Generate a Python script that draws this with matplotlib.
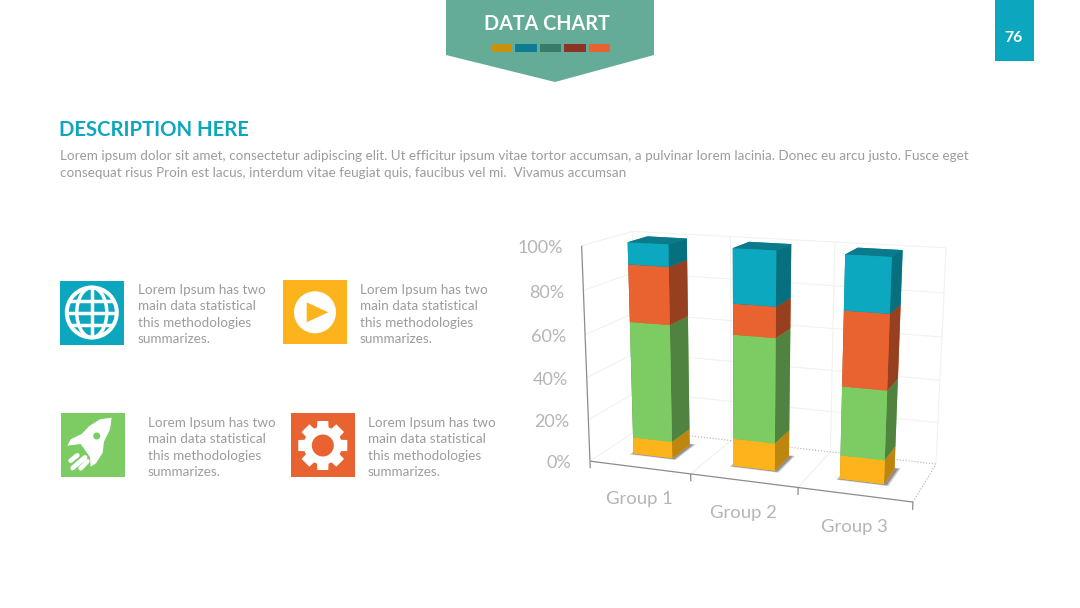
import numpy as np
import matplotlib
matplotlib.use('Agg')
import matplotlib.pyplot as plt
from matplotlib.patches import Circle, Ellipse, Polygon, Rectangle
from mpl_toolkits.mplot3d import proj3d
from mpl_toolkits.mplot3d.art3d import Line3DCollection

plt.rcParams['font.family'] = ['Lato', 'DejaVu Sans']

# chart data (percent, stacked from the floor up)
groups = ['Group 1', 'Group 2', 'Group 3']
yellow = [8, 13, 11]
green = [55.5, 48.5, 31.5]
orange = [26.5, 14, 33.5]
blue = [10, 24.5, 24]
ticks = [0, 20, 40, 60, 80, 100]

series = [yellow, green, orange, blue]
front_cols = ['#FDB41C', '#7CCB63', '#E96330', '#0CA8BF']
side_cols = ['#BC860F', '#4F833F', '#97401F', '#07707F']
top_cols = ['#FDB41C', '#7CCB63', '#E96330', '#0B7A8B']

para = ['Lorem ipsum dolor sit amet, consectetur adipiscing elit. Ut efficitur ipsum vitae tortor accumsan, a pulvinar lorem lacinia. Donec eu arcu justo. Fusce eget',
        'consequat risus Proin est lacus, interdum vitae feugiat quis, faucibus vel mi.  Vivamus accumsan']
blurb = ['Lorem Ipsum has two', 'main data statistical', 'this methodologies', 'summarizes.']

TEAL = '#0CA6BE'
YEL = '#FDB41C'
GRN = '#7CCB63'
ORG = '#E96330'
GREY = '#9C9C9C'

fig = plt.figure(figsize=(10.8, 6.08), dpi=100)

# flat layer in pixel coordinates for the slide furniture
bg = fig.add_axes([0, 0, 1, 1])
bg.set_xlim(0, 1080)
bg.set_ylim(608, 0)
bg.axis('off')

bg.add_patch(Polygon([(446, 0), (654, 0), (654, 55), (555, 82), (446, 55)], fc='#64AC98', ec='none'))
sw_x = [(491, 512), (515, 537), (540, 561), (564, 586), (589, 610)]
sw_c = ['#C8920E', '#0E7C93', '#3A7A68', '#8A3528', '#E86230']
for (a, b), c in zip(sw_x, sw_c):
    bg.add_patch(Rectangle((a, 44), b - a, 8, fc=c, ec='none'))
bg.text(546.5, 24, 'DATA CHART', color='white', fontsize=14.2, fontweight='bold', ha='center', va='center')

bg.add_patch(Rectangle((995, 0), 39, 61, fc=TEAL, ec='none'))
bg.text(1013.5, 38, '76', color='white', fontsize=11.3, fontweight='bold', ha='center', va='center')

bg.text(59, 130, 'DESCRIPTION HERE', color=TEAL, fontsize=14.55, fontweight='bold', ha='left', va='center')
bg.text(60, 156, para[0], color=GREY, fontsize=9.7, ha='left', va='center')
bg.text(60, 173, para[1], color=GREY, fontsize=9.7, ha='left', va='center')

for bx, by in [(138, 290), (360, 290), (148, 423), (368, 423)]:
    for i, line in enumerate(blurb):
        bg.text(bx, by + i * 16.3, line, color=GREY, fontsize=9.75, ha='left', va='center')

# globe icon
bg.add_patch(Rectangle((60, 281), 64, 64, fc=TEAL, ec='none'))
disc = Circle((91.8, 312.5), 25, fc='none', ec='white', lw=2.9)
bg.add_patch(disc)
clip = Circle((91.8, 312.5), 25, transform=bg.transData)
for off in [-12, 0, 12]:
    ln, = bg.plot([60, 124], [312.5 + off] * 2, color='white', lw=2.5)
    ln.set_clip_path(clip)
ln, = bg.plot([91.8, 91.8], [285, 340], color='white', lw=2.5)
ln.set_clip_path(clip)
bg.add_patch(Ellipse((91.8, 312.5), 30, 50, fc='none', ec='white', lw=2.5))

# play icon
bg.add_patch(Rectangle((283, 280), 64, 64, fc=YEL, ec='none'))
bg.add_patch(Circle((315, 312.3), 21, fc='white', ec='none'))
bg.add_patch(Polygon([(306.7, 302.3), (328.3, 312.3), (306.7, 322.3)], fc=YEL, ec='none'))

# rocket icon
bg.add_patch(Rectangle((61, 413), 64, 64, fc=GRN, ec='none'))
rocket = [(185, 443), (150, 448), (118, 468), (95, 492), (62, 508), (52, 527), (92, 522), (105, 540),
          (120, 562), (122, 590), (138, 580), (158, 548), (162, 515), (180, 478)]
bg.add_patch(Polygon([(x / 3 + 50, y / 3 + 270) for x, y in rocket], fc='white', ec='none'))
bg.add_patch(Circle((96.7, 436), 3.5, fc=GRN, ec='none'))
for (x0, y0), (x1, y1) in [((62, 572), (82, 556)), ((68, 594), (105, 562)), ((92, 595), (112, 574))]:
    bg.plot([x0 / 3 + 50, x1 / 3 + 50], [y0 / 3 + 270, y1 / 3 + 270], color='white', lw=3.4, solid_capstyle='round')

# gear icon
bg.add_patch(Rectangle((291, 413), 64, 64, fc=ORG, ec='none'))
gx, gy = 322.8, 445.5
for a in np.arange(8) * np.pi / 4:
    c, s = np.cos(a), np.sin(a)
    tooth = [(-6, 10), (6, 10), (5.5, 24.5), (-5.5, 24.5)]
    bg.add_patch(Polygon([(gx + p * c - q * s, gy + p * s + q * c) for p, q in tooth], fc='white', ec='none'))
bg.add_patch(Circle((gx, gy), 19, fc='white', ec='none'))
bg.add_patch(Circle((gx, gy), 11, fc=ORG, ec='none'))

# 3d chart: the camera is solved from where the frame corners sit on the slide
world = [(0, 0, 0), (3, 0, 0), (3, 1, 0), (0, 1, 0), (0, 0, 100), (0, 1, 100), (3, 1, 100)]
screen = [(590.5, 460), (913, 503), (936, 463), (637, 431), (581, 246), (633, 231), (946, 248)]
A, B = [], []
for (X, Y, Z), (u, v) in zip(world, screen):
    A.append([X, Y, Z, 1, 0, 0, 0, 0, -u * X, -u * Y, -u * Z])
    A.append([0, 0, 0, 0, X, Y, Z, 1, -v * X, -v * Y, -v * Z])
    B += [u, v]
h = np.linalg.lstsq(np.array(A, float), np.array(B, float), rcond=None)[0]
M = np.array([h[:4], h[4:8], [-0.2, 1, 0, 0], [h[8], h[9], h[10], 1]])

ax = fig.add_axes([0, 0, 1, 1], projection='3d')
ax.set_axis_off()
ax.patch.set_visible(False)
ax.computed_zorder = False
ax.get_proj = lambda: M
ax.apply_aspect = lambda position=None: None
# the 2d side of the 3d axes works in slide pixels too
ax.viewLim.intervalx = (0, 1080)
ax.viewLim.intervaly = (608, 0)


def lines3d(segs, color, lw, ls='-', z=1):
    ax.add_collection3d(Line3DCollection(segs, colors=color, linewidths=lw, linestyles=ls, zorder=z))


grid = []
for t in ticks[1:]:
    grid.append([(0, 0, t), (0, 1, t)])
    grid.append([(0, 1, t), (3, 1, t)])
for x in [1, 2, 3]:
    grid.append([(x, 1, 0), (x, 1, 100)])
for x in [1, 2]:
    grid.append([(x, 0, 0), (x, 1, 0)])
grid.append([(0, 1, 0), (0, 1, 100)])
grid.append([(0, 0, 0), (0, 1, 0)])
lines3d(grid, '#F1F1F1', 0.8)
lines3d([[(3, 0, 0), (3, 1, 0)], [(3, 1, 0), (0, 1, 0)]], '#B0B0B0', 0.8, ':')
axis_lines = [[(0, 0, 0), (0, 0, 100)], [(0, 0, 0), (3, 0, 0)]]
for x in range(4):
    axis_lines.append([(x, 0, 0), (x, 0, -3.5)])
lines3d(axis_lines, '#8C8C8C', 0.9, z=2)

bar_x = np.array([0.28, 1.28, 2.28])
bar_w = 0.395
bar_y = 0.33
bar_d = 0.41

# soft shadow on the floor under each bar
for grow, shade in [(0.035, 0.10), (0.018, 0.16)]:
    ax.bar3d(bar_x - grow + 0.012, [bar_y - grow] * 3, 0, bar_w + 2 * grow, bar_d + 2 * grow, 0.01,
             color=(0, 0, 0, shade), shade=False, zorder=2.5)

base = np.zeros(3)
for vals, fc, sc, tc in zip(series, front_cols, side_cols, top_cols):
    vals = np.array(vals, float)
    faces = [tc, tc, fc, fc, sc, sc] * 3
    ax.bar3d(bar_x, [bar_y] * 3, base, bar_w, bar_d, vals, color=faces, shade=False, zorder=3)
    base = base + vals

# tick labels are placed off the projected axis
for t in ticks:
    px, py, _ = proj3d.proj_transform(0, 0, t, M)
    bg.text(px - 19, py + 2, '%d%%' % t, color='#B5B5B5', fontsize=13, ha='right', va='center')
for i, g in enumerate(groups):
    px, py, _ = proj3d.proj_transform(i + 0.5, 0, 0, M)
    bg.text(px, py + 32, g, color='#B5B5B5', fontsize=13.3, ha='center', va='center')

fig.savefig('out.png', dpi=100)
